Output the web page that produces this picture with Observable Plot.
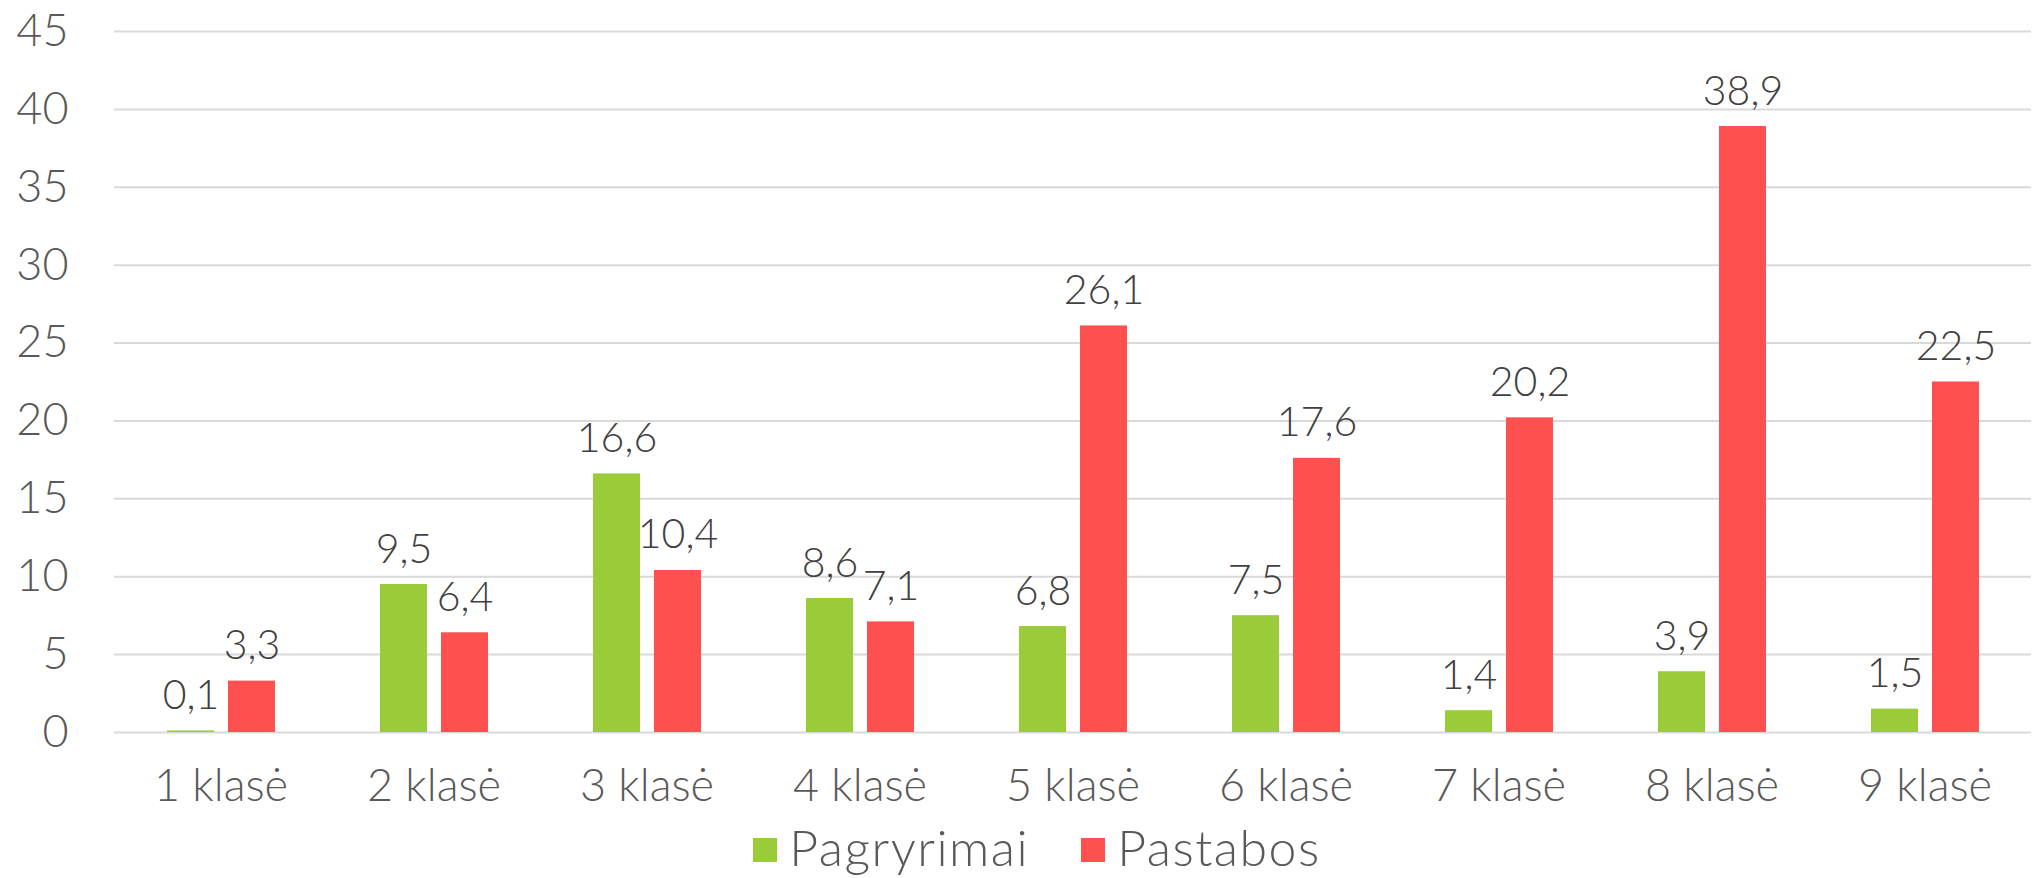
<!DOCTYPE html>
<html>
<head>
<meta charset="utf-8">
<script src="https://cdn.jsdelivr.net/npm/d3@7"></script>
<script src="https://cdn.jsdelivr.net/npm/@observablehq/plot@0.6"></script>
<style>
  html, body { margin: 0; padding: 0; background: #fff; }
  body { width: 2032px; height: 878px; overflow: hidden; font-family: Lato, "Open Sans", sans-serif; font-weight: 300; }
  #chart svg { display: block; }
  #chart svg text { font-weight: 300; }
  #legend { display: flex; justify-content: center; align-items: center; height: 50px; line-height: 1; padding-left: 42px; gap: 52px; color: #595959; font-size: 50px; letter-spacing: 1.5px; margin-top: 4px; }
  .item { display: flex; align-items: center; gap: 12px; }
  .sw { width: 24px; height: 24px; display: inline-block; margin-top: 6px; }
</style>
</head>
<body>
<div id="chart"></div>
<div id="legend"></div>
<script>
const categories = ["1 klasė", "2 klasė", "3 klasė", "4 klasė", "5 klasė", "6 klasė", "7 klasė", "8 klasė", "9 klasė"];
const seriesNames = ["Pagryrimai", "Pastabos"];
const pagryrimai = [0.1, 9.5, 16.6, 8.6, 6.8, 7.5, 1.4, 3.9, 1.5];
const pastabos = [3.3, 6.4, 10.4, 7.1, 26.1, 17.6, 20.2, 38.9, 22.5];
const colors = ["#9ACB38", "#FF5050"];
const yTicks = [0, 5, 10, 15, 20, 25, 30, 35, 40, 45];

const data = [];
categories.forEach((c, i) => {
  data.push({cat: c, series: seriesNames[0], value: pagryrimai[i]});
  data.push({cat: c, series: seriesNames[1], value: pastabos[i]});
});
const fmt = v => v.toFixed(1).replace(".", ",");

const chart = Plot.plot({
  width: 2032,
  height: 818,
  marginLeft: 113,
  marginRight: 0,
  marginTop: 31,
  marginBottom: 86,
  style: {fontFamily: "Lato, 'Open Sans', sans-serif", background: "#fff"},
  fx: {domain: categories, padding: 0, label: null},
  x: {domain: seriesNames, paddingInner: 0.23, paddingOuter: 0.86, axis: null},
  y: {domain: [0, 45], label: null},
  color: {domain: seriesNames, range: colors},
  marks: [
    Plot.gridY(yTicks, {stroke: "#d9d9d9", strokeOpacity: 1, strokeWidth: 2}),
    Plot.axisY(yTicks, {tickSize: 0, tickPadding: 46, fontSize: 45, fill: "#595959", label: null}),
    Plot.axisFx({anchor: "bottom", tickSize: 0, tickPadding: 37, fontSize: 45, fill: "#595959", label: null}),
    Plot.barY(data, {fx: "cat", x: "series", y: "value", fill: "series"}),
    Plot.text(data, {fx: "cat", x: "series", y: "value", text: d => fmt(d.value), lineAnchor: "bottom", dy: -22, fontSize: 41, fill: "#404040"})
  ]
});
document.getElementById("chart").appendChild(chart);

const legend = document.getElementById("legend");
seriesNames.forEach((s, i) => {
  const item = document.createElement("div");
  item.className = "item";
  const sw = document.createElement("span");
  sw.className = "sw";
  sw.style.background = colors[i];
  const t = document.createElement("span");
  t.textContent = s;
  item.appendChild(sw);
  item.appendChild(t);
  legend.appendChild(item);
});
</script>
</body>
</html>
